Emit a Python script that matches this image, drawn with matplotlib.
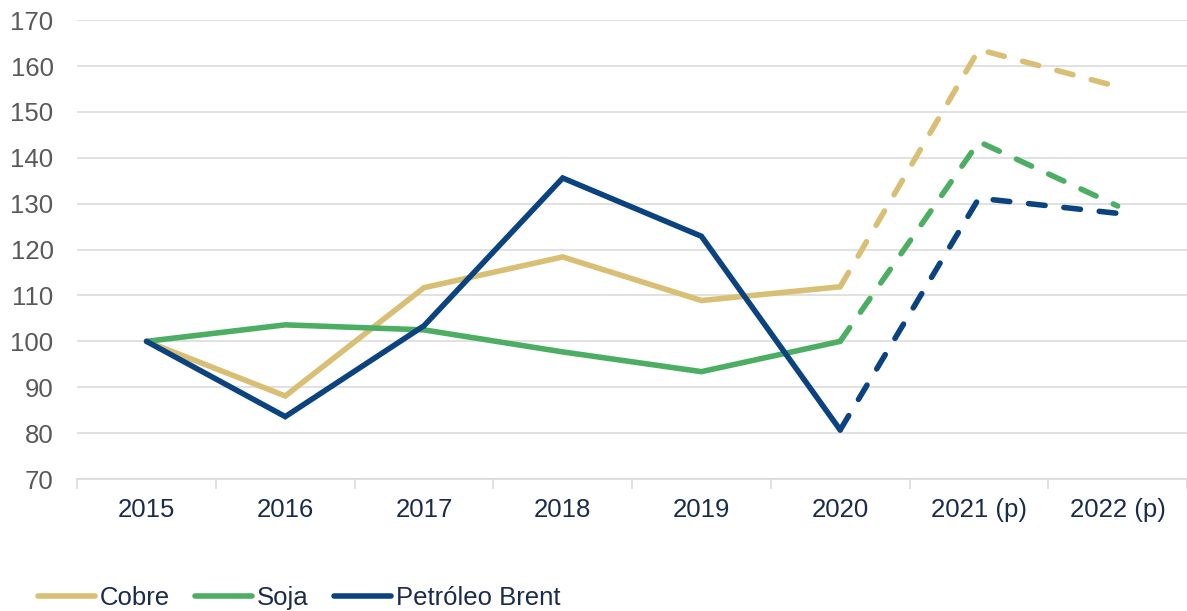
import numpy as np
import matplotlib.pyplot as plt

plt.rcParams['font.family'] = ['Liberation Sans', 'DejaVu Sans']

# Data (index, 2015 = 100)
years = ['2015', '2016', '2017', '2018', '2019', '2020', '2021 (p)', '2022 (p)']
cobre = [100, 88.1, 111.7, 118.4, 108.9, 111.9, 163.6, 155.5]
soja = [100, 103.6, 102.5, 97.7, 93.4, 100.0, 143.5, 129.5]
brent = [100, 83.6, 103.4, 135.6, 122.9, 80.7, 131.2, 127.9]

n_hist = 6  # points up to 2020 are drawn solid, projections dashed

series = [
    ('Cobre', cobre, '#D9BF74'),
    ('Soja', soja, '#4BAE62'),
    ('Petróleo Brent', brent, '#0B4380'),
]

fs = 18.5
fig = plt.figure(figsize=(11.87, 6.11), dpi=100)
ax = fig.add_axes([0.065, 0.216, 0.935, 0.751])

x = np.arange(len(years))
lw = 4.0
handles = []
for name, vals, color in series:
    vals = np.array(vals)
    h, = ax.plot(x[:n_hist], vals[:n_hist], color=color, lw=lw,
                 solid_joinstyle='miter', solid_capstyle='round', label=name, zorder=3)
    d, = ax.plot(x[n_hist - 1:], vals[n_hist - 1:], color=color, lw=lw,
                 dash_capstyle='round', dash_joinstyle='miter', zorder=3)
    d.set_dashes((3.0, 3.4))
    handles.append(h)

ax.set_xlim(-0.5, len(years) - 0.5)
ax.set_ylim(70, 170)
ax.set_yticks(np.arange(70, 171, 10))
ax.grid(axis='y', color='#D9D9D9', lw=1.1, zorder=0)
ax.set_axisbelow(True)

for s in ['top', 'right', 'left']:
    ax.spines[s].set_visible(False)
ax.spines['bottom'].set_color('#D9D9D9')
ax.spines['bottom'].set_linewidth(1.1)

ax.set_xticks(x)
ax.set_xticklabels(years)
ax.set_xticks(np.arange(-0.5, len(years), 1), minor=True)
ax.tick_params(axis='x', which='major', length=0, pad=14, labelsize=fs, labelcolor='#1B2B4B')
ax.tick_params(axis='x', which='minor', length=7, width=1.1, color='#D9D9D9')
ax.tick_params(axis='y', length=0, pad=17, labelsize=fs, labelcolor='#595959')

fig.legend(handles=handles, loc='center left', bbox_to_anchor=(0.032, 0.021),
           ncol=3, frameon=False, fontsize=fs, handlelength=2.2,
           handletextpad=0.2, columnspacing=1.0, labelcolor='#1B2B4B',
           borderaxespad=0, borderpad=0)

fig.savefig('out.png', dpi=100)
